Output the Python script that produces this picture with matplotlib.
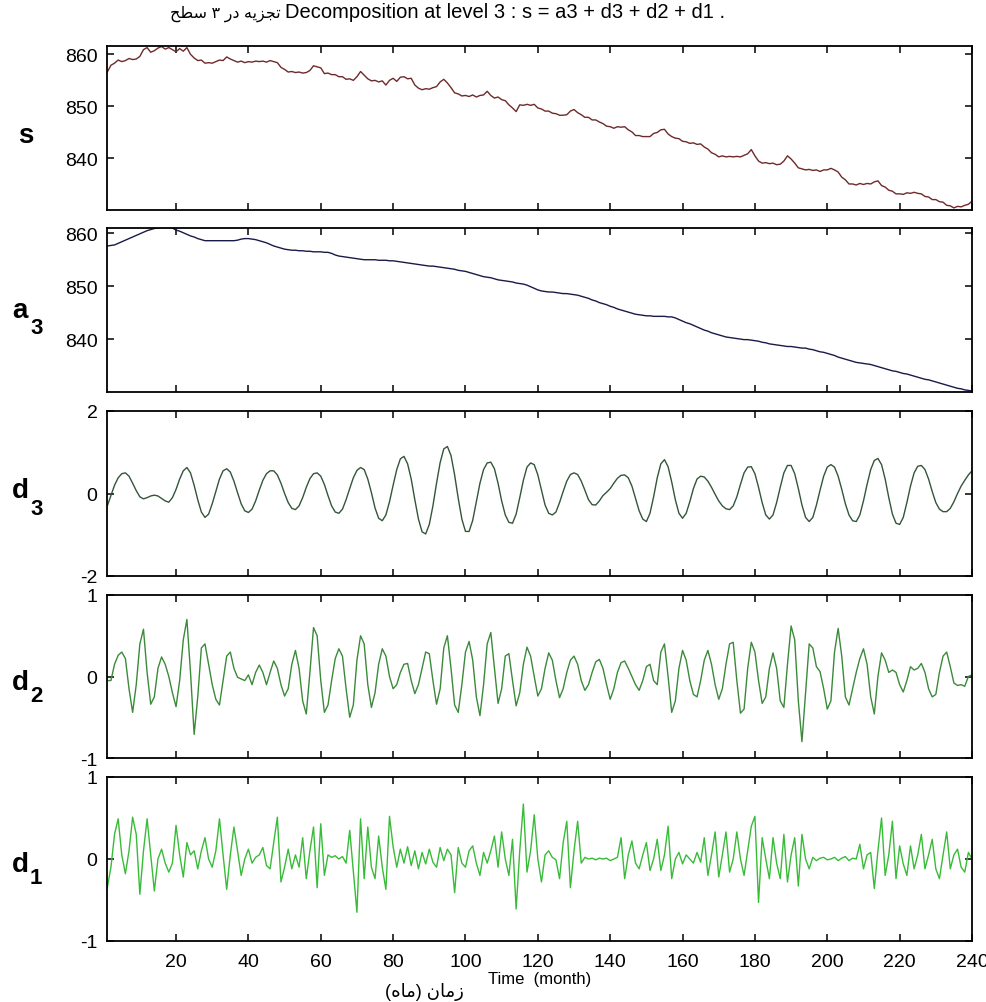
import matplotlib
matplotlib.use('Agg')
import matplotlib.pyplot as plt
import numpy as np

# months 1..240
months = np.arange(1, 241)

s_vals = [
	856.6, 857.9, 858.3, 858.9, 858.6, 858.8, 859.2, 859.0, 859.1, 859.6,
	860.9, 861.3, 860.4, 860.7, 861.2, 861.5, 861.0, 861.3, 860.9, 860.5,
	861.1, 860.6, 861.3, 860.0, 859.3, 858.8, 858.9, 858.3, 858.4, 858.3,
	858.6, 858.9, 858.8, 859.5, 859.1, 858.8, 858.5, 858.7, 858.4, 858.6,
	858.5, 858.7, 858.6, 858.7, 858.5, 858.8, 858.6, 858.4, 857.5, 857.1,
	856.6, 856.7, 856.5, 856.6, 856.4, 856.5, 856.9, 857.8, 857.6, 857.4,
	856.3, 856.4, 856.1, 856.1, 855.7, 855.7, 855.2, 855.3, 855.0, 855.7,
	856.7, 856.0, 855.3, 854.9, 855.0, 854.7, 854.9, 854.1, 855.0, 855.4,
	854.8, 855.6, 855.7, 855.3, 855.4, 854.1, 853.5, 853.2, 853.4, 853.3,
	853.6, 853.8, 854.7, 855.2, 854.5, 853.6, 852.6, 852.4, 852.0, 852.1,
	851.9, 852.2, 851.8, 852.1, 852.2, 852.9, 852.1, 851.6, 851.8, 851.3,
	851.1, 850.3, 849.7, 849.0, 850.3, 850.2, 850.4, 850.2, 850.4, 849.7,
	849.5, 849.1, 849.1, 848.7, 848.6, 848.3, 848.3, 848.4, 849.1, 849.4,
	848.8, 848.4, 847.9, 847.9, 847.4, 847.4, 847.0, 846.7, 846.2, 846.1,
	845.8, 846.1, 846.0, 846.1, 845.5, 845.1, 844.4, 844.4, 844.2, 844.2,
	844.2, 844.8, 845.0, 845.5, 845.6, 844.7, 844.2, 843.9, 843.8, 843.3,
	843.2, 842.9, 843.0, 842.7, 842.8, 842.2, 841.8, 841.1, 840.8, 840.3,
	840.5, 840.3, 840.4, 840.3, 840.4, 840.3, 840.6, 840.9, 841.7, 840.5,
	839.5, 839.1, 839.2, 839.0, 839.1, 838.8, 838.9, 839.5, 840.5, 839.9,
	839.1, 838.2, 838.0, 837.8, 837.9, 837.7, 837.8, 837.5, 837.8, 837.8,
	838.1, 837.8, 837.4, 836.4, 835.9, 835.1, 835.1, 834.9, 835.2, 835.0,
	835.2, 835.1, 835.5, 835.7, 834.8, 834.5, 833.9, 833.7, 833.2, 833.2,
	833.1, 833.4, 833.3, 833.5, 833.3, 833.2, 832.7, 832.6, 832.1, 832.1,
	831.7, 831.6, 831.0, 830.9, 830.5, 830.8, 830.7, 831.0, 831.2, 831.8,
]

a3_vals = [
	857.6, 857.7, 857.8, 858.1, 858.4, 858.7, 859.0, 859.3, 859.6, 859.9,
	860.2, 860.5, 860.7, 860.9, 861.0, 861.1, 861.1, 861.1, 861.0, 860.6,
	860.4, 860.1, 859.8, 859.5, 859.3, 859.0, 858.8, 858.6, 858.6, 858.6,
	858.6, 858.6, 858.6, 858.6, 858.6, 858.6, 858.7, 858.9, 859.0, 859.0,
	858.9, 858.8, 858.6, 858.4, 858.2, 857.9, 857.6, 857.4, 857.2, 857.0,
	856.9, 856.8, 856.8, 856.7, 856.7, 856.6, 856.6, 856.5, 856.5, 856.5,
	856.4, 856.4, 856.2, 855.9, 855.7, 855.6, 855.5, 855.4, 855.3, 855.2,
	855.1, 855.0, 855.0, 855.0, 855.0, 854.9, 854.9, 854.9, 854.8, 854.8,
	854.7, 854.6, 854.5, 854.4, 854.3, 854.2, 854.1, 854.0, 853.9, 853.8,
	853.8, 853.7, 853.6, 853.5, 853.4, 853.3, 853.2, 853.0, 852.9, 852.8,
	852.6, 852.4, 852.2, 852.0, 851.8, 851.7, 851.6, 851.4, 851.2, 851.1,
	851.0, 850.9, 850.8, 850.6, 850.5, 850.4, 850.2, 849.9, 849.6, 849.3,
	849.1, 849.0, 848.9, 848.9, 848.8, 848.7, 848.6, 848.6, 848.5, 848.4,
	848.3, 848.1, 847.9, 847.7, 847.4, 847.2, 846.9, 846.7, 846.5, 846.2,
	846.0, 845.7, 845.5, 845.3, 845.1, 844.9, 844.7, 844.6, 844.5, 844.4,
	844.4, 844.3, 844.3, 844.3, 844.3, 844.2, 844.2, 844.0, 843.7, 843.4,
	843.1, 842.9, 842.6, 842.3, 842.0, 841.7, 841.5, 841.2, 841.0, 840.8,
	840.6, 840.4, 840.3, 840.2, 840.1, 840.0, 839.9, 839.9, 839.8, 839.7,
	839.6, 839.4, 839.3, 839.1, 839.0, 838.9, 838.8, 838.7, 838.6, 838.6,
	838.5, 838.4, 838.3, 838.3, 838.1, 838.0, 837.8, 837.6, 837.5, 837.3,
	837.1, 836.9, 836.6, 836.4, 836.2, 836.0, 835.8, 835.6, 835.5, 835.4,
	835.3, 835.2, 835.0, 834.8, 834.6, 834.4, 834.2, 834.0, 833.9, 833.7,
	833.5, 833.4, 833.2, 833.0, 832.8, 832.6, 832.4, 832.3, 832.1, 831.9,
	831.7, 831.5, 831.3, 831.1, 830.9, 830.7, 830.6, 830.4, 830.3, 830.2,
]

d3_vals = [
	-0.30, -0.05, 0.20, 0.38, 0.48, 0.50, 0.42, 0.25, 0.07, -0.08,
	-0.13, -0.10, -0.06, -0.04, -0.06, -0.12, -0.18, -0.21, -0.10, 0.10,
	0.35, 0.55, 0.63, 0.50, 0.20, -0.15, -0.45, -0.58, -0.50, -0.25,
	0.05, 0.35, 0.55, 0.60, 0.52, 0.30, 0.02, -0.25, -0.42, -0.46,
	-0.38, -0.18, 0.08, 0.32, 0.48, 0.55, 0.55, 0.45, 0.25, 0.00,
	-0.22, -0.36, -0.39, -0.30, -0.10, 0.15, 0.36, 0.48, 0.50, 0.42,
	0.22, -0.05, -0.30, -0.45, -0.48, -0.38, -0.15, 0.12, 0.38, 0.56,
	0.63, 0.58, 0.35, 0.02, -0.35, -0.60, -0.66, -0.52, -0.20, 0.20,
	0.58, 0.84, 0.90, 0.72, 0.35, -0.15, -0.62, -0.93, -0.98, -0.75,
	-0.30, 0.25, 0.75, 1.08, 1.14, 0.92, 0.45, -0.12, -0.62, -0.92,
	-0.92, -0.65, -0.20, 0.25, 0.58, 0.74, 0.76, 0.60, 0.25, -0.18,
	-0.52, -0.70, -0.72, -0.50, -0.10, 0.32, 0.64, 0.74, 0.70, 0.45,
	0.08, -0.28, -0.48, -0.52, -0.45, -0.22, 0.05, 0.30, 0.46, 0.50,
	0.46, 0.30, 0.08, -0.15, -0.27, -0.28, -0.18, -0.05, 0.03, 0.12,
	0.25, 0.37, 0.44, 0.45, 0.38, 0.18, -0.12, -0.42, -0.62, -0.68,
	-0.48, -0.08, 0.38, 0.72, 0.82, 0.65, 0.28, -0.15, -0.48, -0.60,
	-0.48, -0.20, 0.12, 0.35, 0.42, 0.40, 0.30, 0.15, -0.02, -0.18,
	-0.30, -0.37, -0.39, -0.30, -0.08, 0.22, 0.50, 0.64, 0.65, 0.48,
	0.15, -0.22, -0.52, -0.62, -0.52, -0.22, 0.15, 0.50, 0.68, 0.68,
	0.48, 0.12, -0.28, -0.58, -0.68, -0.58, -0.28, 0.08, 0.42, 0.64,
	0.70, 0.64, 0.42, 0.10, -0.25, -0.52, -0.66, -0.68, -0.52, -0.18,
	0.22, 0.58, 0.80, 0.85, 0.70, 0.35, -0.10, -0.50, -0.72, -0.75,
	-0.58, -0.22, 0.18, 0.50, 0.66, 0.68, 0.58, 0.35, 0.05, -0.22,
	-0.38, -0.44, -0.44, -0.36, -0.20, 0.00, 0.18, 0.32, 0.45, 0.55,
]

d2_vals = [
	-0.05, -0.05, 0.15, 0.26, 0.30, 0.22, -0.15, -0.44, -0.10, 0.40,
	0.58, 0.05, -0.34, -0.25, 0.10, 0.24, 0.15, 0.00, -0.20, -0.37,
	-0.05, 0.45, 0.70, 0.05, -0.71, -0.25, 0.35, 0.40, 0.15, -0.10,
	-0.28, -0.35, -0.05, 0.25, 0.30, 0.10, -0.01, -0.03, -0.05, 0.02,
	-0.10, 0.05, 0.14, 0.05, -0.10, 0.05, 0.19, 0.10, -0.10, -0.24,
	-0.15, 0.15, 0.32, 0.10, -0.30, -0.46, 0.05, 0.60, 0.50, -0.05,
	-0.44, -0.35, -0.05, 0.22, 0.34, 0.25, -0.15, -0.50, -0.35, 0.20,
	0.50, 0.40, -0.10, -0.38, -0.20, 0.15, 0.34, 0.25, 0.00, -0.15,
	-0.10, 0.05, 0.15, 0.16, -0.05, -0.21, -0.10, 0.10, 0.30, 0.28,
	-0.05, -0.34, -0.15, 0.35, 0.50, 0.10, -0.35, -0.44, -0.10, 0.30,
	0.43, 0.20, -0.25, -0.48, -0.10, 0.40, 0.54, 0.10, -0.33, -0.15,
	0.25, 0.28, -0.05, -0.36, -0.20, 0.15, 0.36, 0.25, 0.00, -0.24,
	-0.15, 0.10, 0.29, 0.20, -0.05, -0.26, -0.15, 0.05, 0.20, 0.25,
	0.15, -0.05, -0.17, -0.10, 0.05, 0.18, 0.21, 0.10, -0.10, -0.28,
	-0.15, 0.05, 0.17, 0.19, 0.10, 0.00, -0.10, -0.17, -0.05, 0.12,
	0.15, -0.05, -0.10, 0.30, 0.40, 0.00, -0.44, -0.30, 0.10, 0.32,
	0.20, -0.05, -0.22, -0.25, -0.05, 0.20, 0.32, 0.15, -0.10, -0.28,
	-0.15, 0.15, 0.40, 0.42, -0.05, -0.45, -0.40, 0.10, 0.42, 0.30,
	-0.05, -0.33, -0.25, 0.10, 0.29, 0.10, -0.30, -0.38, 0.15, 0.62,
	0.45, -0.30, -0.80, -0.20, 0.40, 0.35, 0.12, 0.06, -0.15, -0.40,
	-0.30, 0.30, 0.59, 0.25, -0.25, -0.35, -0.15, 0.05, 0.22, 0.34,
	0.15, -0.25, -0.46, 0.00, 0.29, 0.20, 0.05, 0.08, 0.05, -0.10,
	-0.19, -0.05, 0.12, 0.08, 0.10, 0.16, 0.05, -0.15, -0.25, -0.22,
	0.05, 0.25, 0.30, 0.12, -0.08, -0.11, -0.10, -0.12, 0.00, 0.02,
]

d1_vals = [
	-0.35, -0.10, 0.30, 0.49, 0.05, -0.18, 0.10, 0.51, 0.30, -0.43,
	0.10, 0.49, 0.05, -0.39, 0.00, 0.12, -0.05, -0.16, -0.05, 0.41,
	0.05, -0.22, 0.20, 0.05, 0.10, -0.12, 0.10, 0.26, 0.00, -0.10,
	0.10, 0.49, 0.05, -0.37, 0.05, 0.39, 0.10, -0.20, 0.00, 0.12,
	-0.05, 0.02, 0.05, 0.14, -0.08, -0.12, 0.20, 0.51, -0.28, -0.10,
	0.12, -0.12, 0.05, -0.10, 0.26, -0.24, 0.10, 0.39, -0.35, 0.43,
	-0.20, 0.05, 0.02, 0.04, 0.00, 0.03, -0.05, 0.35, -0.15, -0.65,
	0.49, -0.24, 0.39, -0.10, -0.24, 0.28, -0.10, -0.37, 0.52, 0.15,
	-0.10, 0.12, -0.05, 0.15, -0.08, 0.10, -0.12, 0.08, -0.06, 0.12,
	-0.04, -0.10, 0.14, -0.02, 0.12, 0.05, -0.41, 0.14, -0.05, -0.10,
	0.10, 0.16, -0.05, -0.20, 0.08, -0.05, 0.10, 0.28, -0.10, 0.33,
	0.00, -0.20, 0.24, -0.61, 0.10, 0.67, -0.16, 0.10, 0.54, 0.00,
	-0.28, 0.05, 0.10, 0.02, -0.01, -0.24, 0.20, 0.46, -0.35, 0.10,
	0.46, -0.05, 0.02, 0.00, 0.01, -0.01, 0.01, 0.00, 0.01, -0.02,
	0.00, 0.02, 0.26, -0.24, 0.05, 0.22, -0.05, -0.12, 0.05, 0.20,
	-0.14, 0.00, 0.24, -0.14, 0.05, 0.40, -0.24, 0.00, 0.08, -0.06,
	0.05, 0.00, -0.05, 0.08, -0.04, 0.26, -0.20, 0.05, 0.33, -0.22,
	0.05, 0.33, -0.16, 0.00, 0.33, 0.00, -0.20, 0.10, 0.40, 0.52,
	-0.53, 0.26, 0.00, -0.24, 0.26, -0.05, -0.24, 0.30, -0.28, 0.05,
	0.26, -0.33, 0.30, 0.00, -0.12, 0.02, -0.02, 0.01, 0.02, -0.01,
	0.00, 0.02, -0.02, 0.01, 0.03, -0.02, 0.01, 0.00, 0.18, -0.12,
	0.05, 0.08, -0.36, 0.10, 0.50, -0.20, 0.05, 0.46, -0.24, 0.16,
	-0.06, -0.20, 0.16, -0.12, 0.05, 0.30, -0.12, 0.05, 0.24, -0.12,
	-0.24, 0.05, 0.33, -0.12, 0.05, 0.12, -0.10, -0.16, 0.08, 0.00,
]

x_ticks = [20, 40, 60, 80, 100, 120, 140, 160, 180, 200, 220, 240]

W, H = 986, 1003
FONT = ['Liberation Sans', 'DejaVu Sans']
plt.rcParams['axes.unicode_minus'] = False


def fx(px):
	return px / W


def fy(py):
	return 1 - py / H


def panel(fig, top, bottom, x, y, color, ylim, yticks, last=False):
	left, right = 107.3, 972.0
	ax = fig.add_axes([fx(left), fy(bottom), (right - left) / W, (bottom - top) / H])
	ax.plot(x, y, color=color, lw=1.0)
	ax.set_xlim(1, 240)
	ax.set_ylim(ylim)
	ax.set_xticks(x_ticks)
	ax.set_yticks(yticks)
	ax.tick_params(direction='in', length=5, width=1.1, top=True, right=True,
				   labelsize=14, pad=7)
	ax.tick_params(axis='x', pad=9)
	if not last:
		ax.set_xticklabels([])
	for sp in ax.spines.values():
		sp.set_linewidth(1.3)
	for lab in ax.get_xticklabels() + ax.get_yticklabels():
		lab.set_family(FONT)
	return ax


def side_label(fig, letter, sub, x, base, sub_base):
	fig.text(fx(x), fy(base), letter, fontsize=20, fontweight='bold',
			 family=FONT, va='baseline', ha='left')
	if sub:
		fig.text(fx(x + 18), fy(sub_base), sub, fontsize=16, fontweight='bold',
				 family=FONT, va='baseline', ha='left')


if __name__ == '__main__':
	fig = plt.figure(figsize=(W / 100, H / 100), dpi=100)

	panel(fig, 47, 211, months, s_vals, '#6e2a2a', (830.1, 861.6), [840, 850, 860])
	panel(fig, 229, 393, months, a3_vals, '#1a1a4a', (830.0, 861.0), [840, 850, 860])
	panel(fig, 412, 577, months, d3_vals, '#34553a', (-2, 2), [-2, 0, 2])
	panel(fig, 596, 759, months, d2_vals, '#3a8a3a', (-1, 1), [-1, 0, 1])
	panel(fig, 778, 942, months, d1_vals, '#38bb38', (-1, 1), [-1, 0, 1], last=True)

	side_label(fig, 's', None, 18, 143, 0)
	side_label(fig, 'a', '3', 12, 318, 334)
	side_label(fig, 'd', '3', 12, 498, 515)
	side_label(fig, 'd', '2', 12, 690, 702)
	side_label(fig, 'd', '1', 12, 872, 884)

	# persian text written in visual order with presentation forms
	title_fa = '\ufea2\ufec4\ufeb3 \u06f3 \ufead\ufea9 \ufeea\ufbfe\ufeb0\ufea0\ufe97'
	title_en = 'Decomposition at level 3 : s = a3 + d3 + d2 + d1 .'
	fig.text(fx(281), fy(18), title_fa, fontsize=11.5,
			 family=FONT, va='baseline', ha='right')
	fig.text(fx(285), fy(18), title_en, fontsize=14.5,
			 family=FONT, va='baseline', ha='left')

	xlabel_fa = '(\ufee9\ufe8e\ufee3) \ufee5\ufe8e\ufee3\ufeaf'
	fig.text(fx(385), fy(997), xlabel_fa, fontsize=13, family=FONT,
			 va='baseline', ha='left')
	fig.text(fx(488), fy(984), 'Time  (month)', fontsize=12, family=FONT,
			 va='baseline', ha='left')

	plt.savefig('out.png', dpi=100)
